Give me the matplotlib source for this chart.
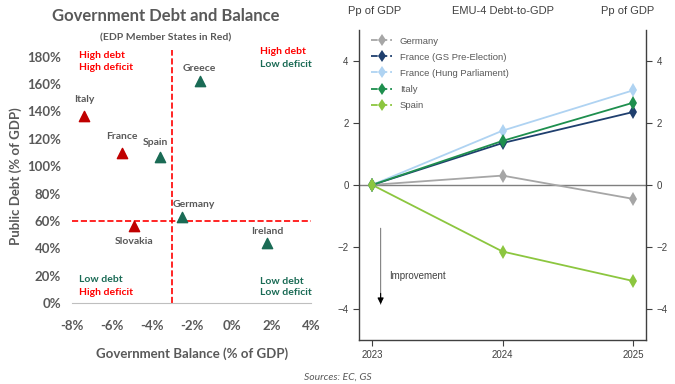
import matplotlib.pyplot as plt
from matplotlib.lines import Line2D

# left panel: government balance vs public debt
countries = ["Italy", "France", "Spain", "Greece", "Germany", "Slovakia", "Ireland"]
balance = [-7.4, -5.5, -3.6, -1.6, -2.5, -4.9, 1.8]
debt = [137, 110, 107, 162, 63, 56, 44]
edp = [True, True, False, False, False, True, False]

# right panel: change in debt-to-GDP, pp
years = [2023, 2024, 2025]
series = {
    "Germany": [0, 0.3, -0.45],
    "France (GS Pre-Election)": [0, 1.35, 2.35],
    "France (Hung Parliament)": [0, 1.75, 3.05],
    "Italy": [0, 1.42, 2.65],
    "Spain": [0, -2.15, -3.1],
}
colors = {
    "Germany": "#A6A6A6",
    "France (GS Pre-Election)": "#1F3F6E",
    "France (Hung Parliament)": "#AFD3F2",
    "Italy": "#1E8F4E",
    "Spain": "#8CC63F",
}

RED = "#C00000"
GREEN = "#1A6B55"
TXTRED = "#FF0000"
GRAY = "#595959"

fig = plt.figure(figsize=(6.75, 3.84), dpi=100)

# ---- left ----
ax = fig.add_axes([0.107, 0.211, 0.354, 0.659])
lf = "Lato"
for name, x, y, e in zip(countries, balance, debt, edp):
    ax.scatter(x, y, marker="^", s=55, color=RED if e else GREEN, zorder=3)

# label positions relative to the marker (balance pp, debt pp)
offsets = {"Italy": (0, 11.5), "France": (0, 11.5), "Spain": (-0.2, 10.5), "Greece": (0, 9.5),
           "Germany": (0.6, 9), "Slovakia": (0, -11), "Ireland": (0, 8.5)}
for name, x, y in zip(countries, balance, debt):
    dx, dy = offsets[name]
    ax.text(x + dx, y + dy, name, ha="center", va="center", fontsize=7.5, fontweight="bold",
            color=GRAY, family=lf)

ax.axvline(-3, color=TXTRED, ls="--", lw=1.2, zorder=1)
ax.axhline(60, color=TXTRED, ls="--", lw=1.2, zorder=1)
ax.set_xlim(-8, 4)
ax.set_ylim(0, 185)
ax.set_yticks(range(0, 181, 20))
ax.set_yticklabels([f"{v}%" for v in range(0, 181, 20)])
ax.set_xticks(range(-8, 5, 2))
ax.set_xticklabels([f"{v}%" for v in range(-8, 5, 2)])
for s in ["top", "right", "left"]:
    ax.spines[s].set_visible(False)
ax.spines["bottom"].set_color("#BFBFBF")
ax.tick_params(length=0, labelsize=9.5, labelcolor=GRAY, pad=8)
ax.tick_params(axis="x", pad=12)
for lab in ax.get_xticklabels() + ax.get_yticklabels():
    lab.set_family(lf)
    lab.set_fontweight("bold")

qx_l, qx_r = -7.65, 1.45
ax.text(qx_l, 181, "High debt", color=TXTRED, fontsize=7.5, fontweight="bold", family=lf, va="center")
ax.text(qx_l, 172, "High deficit", color=TXTRED, fontsize=7.5, fontweight="bold", family=lf, va="center")
ax.text(qx_r, 183.5, "High debt", color=TXTRED, fontsize=7.5, fontweight="bold", family=lf, va="center")
ax.text(qx_r, 174, "Low deficit", color=GREEN, fontsize=7.5, fontweight="bold", family=lf, va="center")
ax.text(qx_l, 16.8, "Low debt", color=GREEN, fontsize=7.5, fontweight="bold", family=lf, va="center")
ax.text(qx_l, 7.3, "High deficit", color=TXTRED, fontsize=7.5, fontweight="bold", family=lf, va="center")
ax.text(qx_r, 16, "Low debt", color=GREEN, fontsize=7.5, fontweight="bold", family=lf, va="center")
ax.text(qx_r, 7.3, "Low deficit", color=GREEN, fontsize=7.5, fontweight="bold", family=lf, va="center")

ax.set_xlabel("Government Balance (% of GDP)", fontsize=9.5, fontweight="bold", color=GRAY,
              family=lf, labelpad=11)
ax.set_ylabel("Public Debt (% of GDP)", fontsize=9.5, fontweight="bold", color=GRAY,
              family=lf, labelpad=4)

fig.text(0.245, 0.958, "Government Debt and Balance", ha="center", va="center", fontsize=12,
         fontweight="bold", color=GRAY, family=lf)
fig.text(0.245, 0.9, "(EDP Member States in Red)", ha="center", va="center", fontsize=7.5,
         fontweight="bold", color=GRAY, family=lf)
fig.text(0.5, 0.018, "Sources: EC, GS", ha="center", va="center", fontsize=7.5, style="italic",
         color=GRAY, family=lf)

# ---- right ----
rf = "Liberation Sans"
ax2 = fig.add_axes([0.532, 0.115, 0.425, 0.807])
handles = []
for name, vals in series.items():
    c = colors[name]
    ax2.plot(years, vals, color=c, lw=1.3, zorder=3)
    ax2.plot(years, vals, ls="none", marker="d", ms=7, mew=0, color=c, zorder=4)
    handles.append(Line2D([], [], color=c, lw=1.3, ls="--", marker="d", ms=6, mew=0))
ax2.axhline(0, color="#7F7F7F", lw=1, zorder=1)
ax2.set_xlim(2022.9, 2025.1)
ax2.set_ylim(-5, 5)
ax2.set_xticks(years)
ax2.set_yticks([-4, -2, 0, 2, 4])
ax2.spines["top"].set_visible(False)
for s in ["left", "right", "bottom"]:
    ax2.spines[s].set_color("#404040")
    ax2.spines[s].set_linewidth(1)
ax2.tick_params(labelsize=7, labelcolor="#404040", color="#404040", length=4, labelright=True,
                right=True)
for t in ax2.get_xticklabels() + ax2.yaxis.get_majorticklabels():
    t.set_family(rf)
for t in ax2.yaxis.get_ticklabels():
    t.set_family(rf)

leg = ax2.legend(handles, list(series.keys()), loc="upper left", frameon=False,
                 prop={"family": rf, "size": 6.8}, handlelength=2.2, labelspacing=0.75,
                 borderaxespad=0.3, bbox_to_anchor=(0.02, 1.0))
for t in leg.get_texts():
    t.set_color(GRAY)

ax2.annotate("", xy=(2023.065, -3.85), xytext=(2023.065, -1.4),
             arrowprops=dict(arrowstyle="-", color="#808080", lw=0.8, shrinkA=0, shrinkB=0))
ax2.annotate("", xy=(2023.065, -3.85), xytext=(2023.065, -3.5),
             arrowprops=dict(arrowstyle="-|>", color="black", lw=0.8, mutation_scale=9,
                             shrinkA=0, shrinkB=0))
ax2.text(2023.13, -2.95, "Improvement", fontsize=7, color="#404040", family=rf, va="center")

fig.text(0.555, 0.972, "Pp of GDP", ha="center", va="center", fontsize=8, color="#404040", family=rf)
fig.text(0.745, 0.972, "EMU-4 Debt-to-GDP", ha="center", va="center", fontsize=8, color="#404040",
         family=rf)
fig.text(0.93, 0.972, "Pp of GDP", ha="center", va="center", fontsize=8, color="#404040", family=rf)

fig.savefig("out.png", dpi=100)
